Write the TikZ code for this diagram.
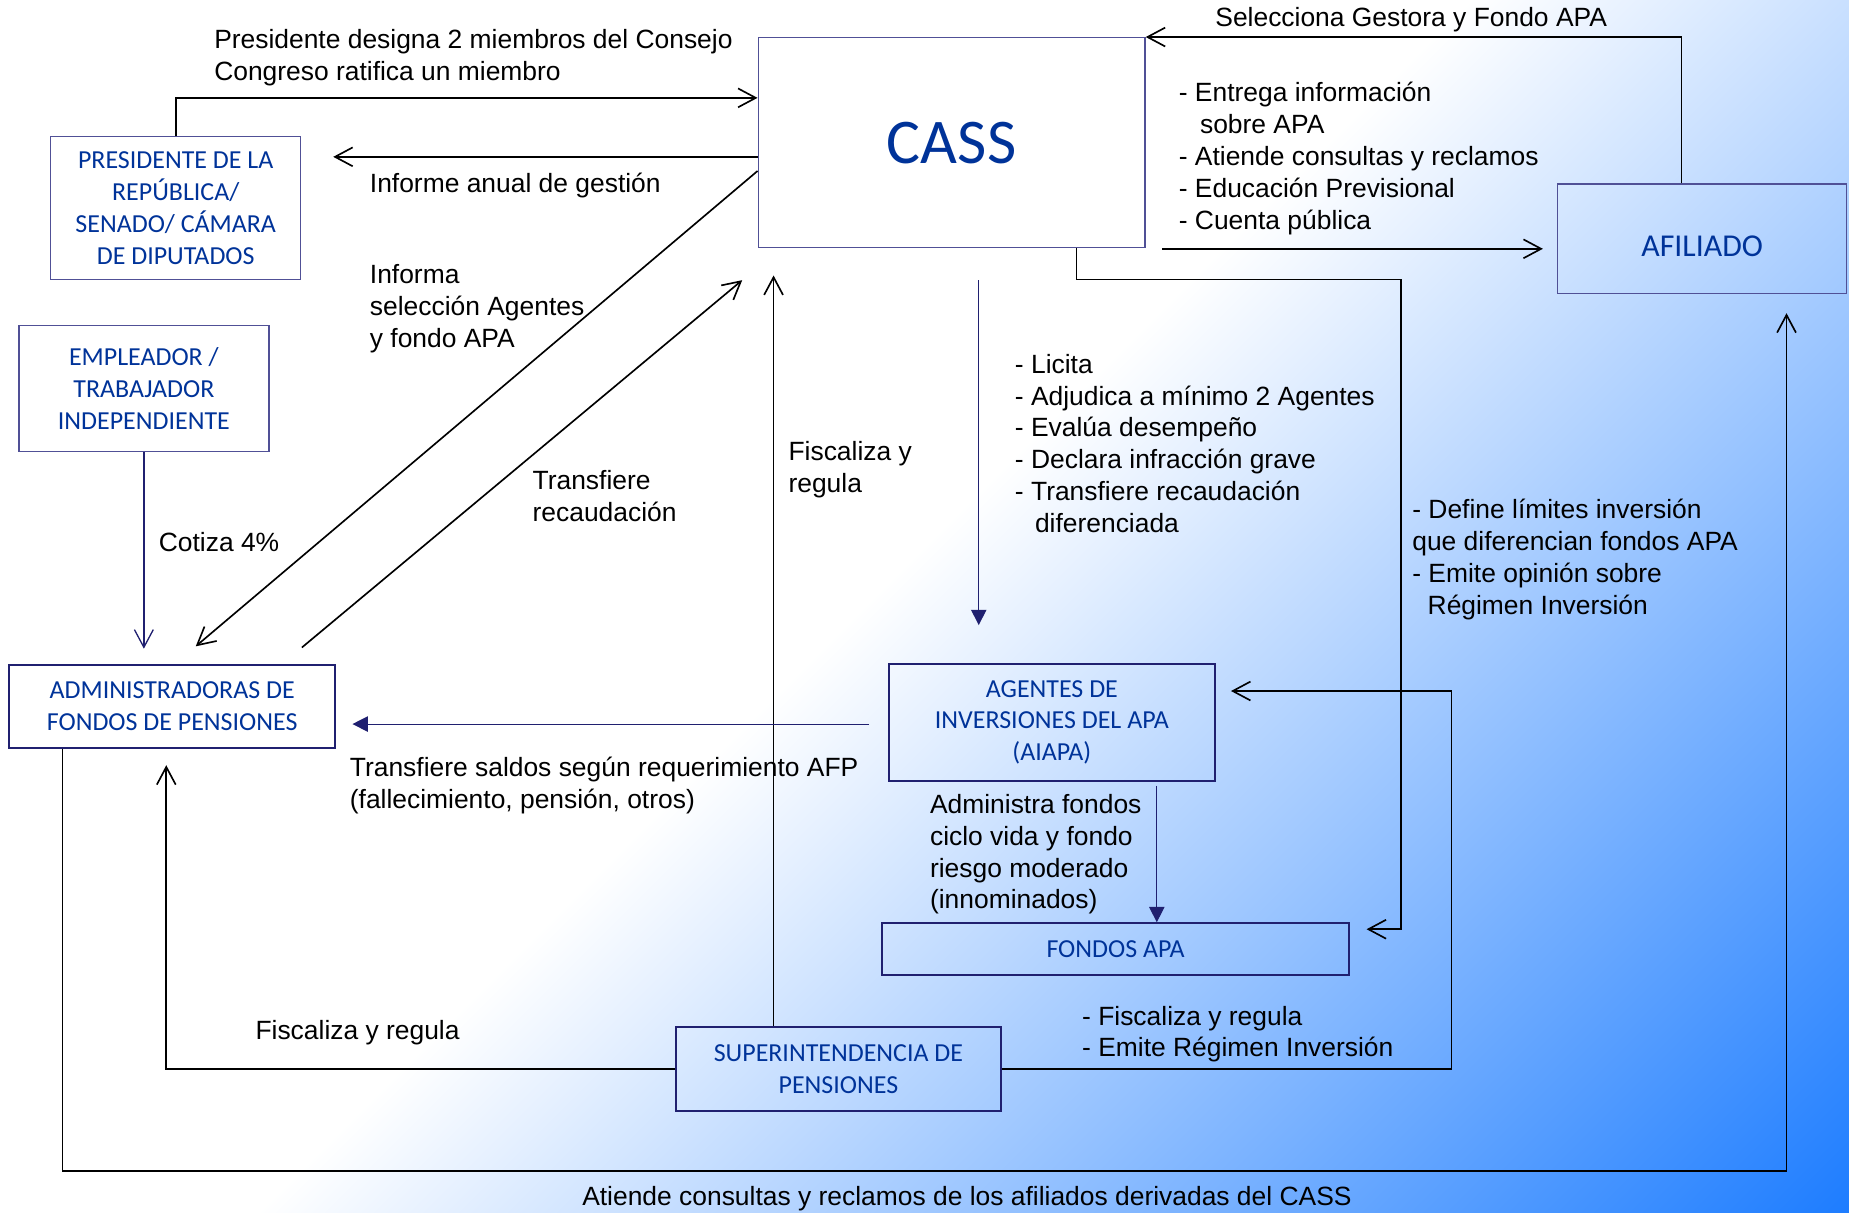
\documentclass[tikz,border=0pt]{standalone}
\usepackage{fontspec}
\setmainfont{Liberation Sans}
\newfontfamily\boxfont{Carlito}
\usetikzlibrary{arrows.meta}
\definecolor{boxtext}{RGB}{0,51,153}
\definecolor{navy}{RGB}{32,32,112}
\definecolor{slate}{RGB}{80,80,150}
\definecolor{bgblue}{RGB}{30,125,255}
\pgfdeclareverticalshading{bgdiag}{100bp}{color(0bp)=(bgblue); color(26.8bp)=(bgblue); color(57.3bp)=(white); color(100bp)=(white)}

\begin{document}
\begin{tikzpicture}[x=0.5pt,y=-0.5pt,>={Straight Barb[length=7.5pt,width=8pt]},line width=0.7pt]
  \tikzset{
    box/.style={draw=slate,line width=0.6pt,text=boxtext,align=center,inner sep=0pt,
      font=\boxfont\fontsize{11}{13.5}\selectfont},
    strongbox/.style={box,draw=navy,line width=0.9pt},
    lbl/.style={font=\fontsize{11.2}{13.5}\selectfont,align=left,inner sep=0pt,anchor=west},
    navyline/.style={draw=navy,line width=0.45pt,-{Triangle[length=6.5pt,width=6.5pt]}}
  }
  % page and diagonal background
  \useasboundingbox (0,0) rectangle (1568,1028);
  \begin{scope}
    \clip (0,0) rectangle (1568,1028);
    \shade[shading=bgdiag,shading angle=45] (0,0) rectangle (1568,1568);
  \end{scope}

  % boxes
  \node[box,minimum width=164pt,minimum height=89pt,
    font=\boxfont\fontsize{27}{30}\selectfont] (cass) at (807,121) {CASS};
  \node[box,minimum width=106pt,minimum height=60.5pt] (pres) at (149,176.5)
    {PRESIDENTE DE LA\\REPÚBLICA/\\SENADO/ CÁMARA\\DE DIPUTADOS};
  \node[box,minimum width=106pt,minimum height=53.5pt] (empl) at (122,329.5)
    {EMPLEADOR /\\TRABAJADOR\\INDEPENDIENTE};
  \node[strongbox,minimum width=138pt,minimum height=35pt] (admin) at (146,599)
    {ADMINISTRADORAS DE\\FONDOS DE PENSIONES};
  \node[strongbox,minimum width=138pt,minimum height=49.5pt] (agentes) at (892,612.5)
    {AGENTES DE\\INVERSIONES DEL APA\\(AIAPA)};
  \node[strongbox,minimum width=198pt,minimum height=22pt] (fondos) at (946,805) {FONDOS APA};
  \node[strongbox,minimum width=138pt,minimum height=35.5pt] (super) at (711,906.5)
    {SUPERINTENDENCIA DE\\PENSIONES};
  \node[box,minimum width=122.5pt,minimum height=46.5pt,text height=14.7pt,text depth=0pt,
    font=\boxfont\fontsize{13.5}{16}\selectfont] (afil) at (1443.5,202.5) {AFILIADO};

  % presidente designa / informe anual
  \draw[->] (pres.north) |- ([yshift=19pt]cass.west);
  \coordinate (inf) at ([yshift=-6pt]cass.west);
  \draw[->,shorten >=13.5pt] (inf) -- (inf -| pres.east);

  % CASS <-> AFP diagonals
  \draw[->] ([yshift=-12pt]cass.west) -- ([xshift=10pt,yshift=7.5pt]admin.north);
  \draw[->] ([xshift=55pt,yshift=7pt]admin.north) -- ([xshift=-6.5pt,yshift=-13.5pt]cass.south west);

  % cotiza
  \draw[->,navy,line width=0.55pt,shorten >=6.5pt] (empl.south) -- (empl.south |- admin.north);

  % superintendencia fiscaliza CASS
  \coordinate (fc) at ([xshift=-27.5pt]super.north);
  \draw[->,shorten >=11.5pt] (fc) -- (fc |- cass.south);

  % licita, transfiere saldos, administra
  \coordinate (lic) at ([xshift=11.5pt]cass.south);
  \draw[navyline,shorten <=13.5pt,shorten >=16pt] (lic) -- (lic |- agentes.north);
  \coordinate (ts) at ([yshift=-0.75pt]agentes.west);
  \draw[navyline,shorten <=8pt,shorten >=7pt] (ts) -- (ts -| admin.east);
  \coordinate (af) at ([xshift=44.5pt]agentes.south);
  \draw[navyline,shorten <=1.75pt] (af) -- (af |- fondos.north);

  % define limites -> fondos APA
  \coordinate (lim) at (1188,237);
  \draw[->,shorten >=7pt] ([xshift=53pt]cass.south) |- (lim) |- ([yshift=8.5pt]fondos.east);

  % superintendencia -> agentes and AFP
  \coordinate (emi) at (1231,750);
  \draw[->,shorten >=6.5pt] (super.east) -| (emi) |- ([yshift=13.25pt]agentes.east);
  \draw[->,shorten >=7pt] (super.west) -| ([xshift=-2.5pt]admin.south);

  % AFP -> afiliado along the bottom
  \coordinate (atd) at (820,993);
  \draw[->,shorten >=8pt] ([xshift=-46.5pt]admin.south) |- (atd) -| ([xshift=35.75pt]afil.south);

  % afiliado <-> CASS
  \draw[->] ([xshift=-8.75pt]afil.north) |- (cass.north east);
  \coordinate (ent) at ([yshift=-4.25pt]afil.west);
  \draw[->,shorten <=7pt,shorten >=6pt] (cass.south east |- ent) -- (ent);

  % labels
  \node[lbl] (tpres) at (181,49) {Presidente designa 2 miembros del Consejo\\Congreso ratifica un miembro};
  \node[lbl] (tinf) at (313,157) {Informe anual de gestión};
  \node[lbl] (tsel) at (313,262) {Informa\\selección Agentes\\y fondo APA};
  \node[lbl] (trec) at (451,420.5) {Transfiere\\recaudación};
  \node[lbl] (tcot) at (134,460) {Cotiza 4\%};
  \node[lbl] (tfis) at (668,398.5) {Fiscaliza y\\regula};
  \node[lbl] (tlic) at (860,376) {- Licita\\- Adjudica a mínimo 2 Agentes\\- Evalúa desempeño\\
    - Declara infracción grave\\- Transfiere recaudación\\\hspace*{8.5pt}diferenciada};
  \node[lbl] (tsal) at (296,666) {Transfiere saldos según requerimiento AFP\\(fallecimiento, pensión, otros)};
  \node[lbl] (tadm) at (788,724.5) {Administra fondos\\ciclo vida y fondo\\riesgo moderado\\(innominados)};
  \node[lbl] (tlim) at (1197,474.5) {- Define límites inversión\\que diferencian fondos APA\\
    - Emite opinión sobre\\\hspace*{6.5pt}Régimen Inversión};
  \node[lbl] (treg) at (917,877) {- Fiscaliza y regula\\- Emite Régimen Inversión};
  \node[lbl] (tfaf) at (216,876) {Fiscaliza y regula};
  \node[lbl,anchor=center] (tati) at (820,1016.5) {Atiende consultas y reclamos de los afiliados derivadas del CASS};
  \node[lbl] (tges) at (1030,16.5) {Selecciona Gestora y Fondo APA};
  \node[lbl] (tent) at (999,134.5) {- Entrega información\\\hspace*{9pt}sobre APA\\
    - Atiende consultas y reclamos\\- Educación Previsional\\- Cuenta pública};
\end{tikzpicture}
\end{document}
